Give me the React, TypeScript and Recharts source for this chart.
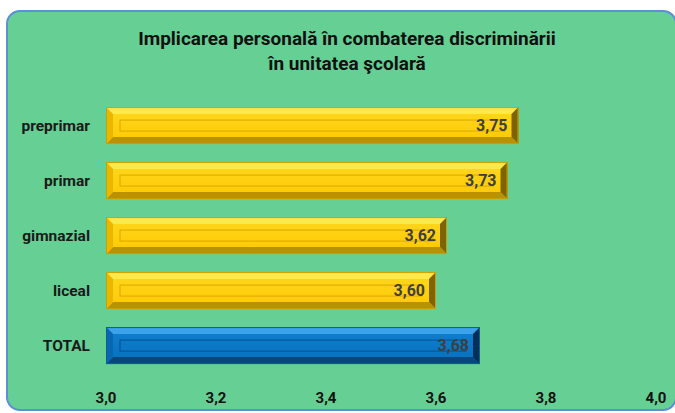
import React from 'react';
import { BarChart, Bar, XAxis, YAxis, LabelList } from 'recharts';

const categories = ['preprimar', 'primar', 'gimnazial', 'liceal', 'TOTAL'];
const values = [3.75, 3.73, 3.62, 3.6, 3.68];
const xTicks = [3.0, 3.2, 3.4, 3.6, 3.8, 4.0];
const titleLines = ['Implicarea personală în combaterea discriminării', 'în unitatea şcolară'];

const data = categories.map((c, i) => ({ name: c, value: values[i] }));

const FONT = 'Roboto, "Liberation Sans", sans-serif';

const YELLOW = {
  faceTop: '#FFD820', faceBot: '#FFC800', top: '#FFE84A', bottom: '#B89200', left: '#E8B800', right: '#7E6400', line: '#D9A800', edge: '#C9A000',
};
const BLUE = {
  faceTop: '#1080D0', faceBot: '#0670BC', top: '#3CA2EC', bottom: '#07477E', left: '#0A66AE', right: '#032F58', line: '#05508E', edge: '#0A5C9A',
};

const fmt = (v: number) => v.toFixed(2).replace('.', ',');

function BevelBar(props: any) {
  const { x, y, width: w, height: h, index } = props;
  if (w <= 0 || h <= 0) return null;
  const c = categories[index] === 'TOTAL' ? BLUE : YELLOW;
  const b = 7;
  const gid = `g${index}`;
  return (
    <g>
      <defs>
        <linearGradient id={gid} x1="0" y1="0" x2="0" y2="1">
          <stop offset="0%" stopColor={c.faceTop} />
          <stop offset="100%" stopColor={c.faceBot} />
        </linearGradient>
      </defs>
      <rect x={x} y={y} width={w} height={h} fill={`url(#${gid})`} />
      <polygon points={`${x},${y} ${x + w},${y} ${x + w - b},${y + b} ${x + b},${y + b}`} fill={c.top} />
      <polygon points={`${x},${y + h} ${x + w},${y + h} ${x + w - b},${y + h - b} ${x + b},${y + h - b}`} fill={c.bottom} />
      <polygon points={`${x},${y} ${x + b},${y + b} ${x + b},${y + h - b} ${x},${y + h}`} fill={c.left} />
      <polygon points={`${x + w},${y} ${x + w - b},${y + b} ${x + w - b},${y + h - b} ${x + w},${y + h}`} fill={c.right} />
      <rect x={x + 14} y={y + 13} width={Math.max(0, w - 28)} height={Math.max(0, h - 26)} fill="none" stroke={c.line} strokeWidth={1} />
      <rect x={x + 0.5} y={y + 0.5} width={w - 1} height={h - 1} fill="none" stroke={c.edge} strokeWidth={1} />
    </g>
  );
}

function ValueLabel(props: any) {
  const { x, y, width, height, value } = props;
  return (
    <text x={x + width - 11} y={y + height / 2} dy={5.5} textAnchor="end" fontFamily={FONT} fontWeight={700} fontSize={16} fill="#3F3F3F">
      {fmt(value)}
    </text>
  );
}

function XTick(props: any) {
  const { x, y, payload } = props;
  return (
    <text x={x} y={y} dy={22} textAnchor="middle" fontFamily={FONT} fontWeight={700} fontSize={15} fill="#111">
      {payload.value.toFixed(1).replace('.', ',')}
    </text>
  );
}

function YTick(props: any) {
  const { x, y, payload } = props;
  return (
    <text x={x} y={y} dy={5.5} textAnchor="end" fontFamily={FONT} fontWeight={700} fontSize={15.5} fill="#1A1A1A">
      {payload.value}
    </text>
  );
}

export default function App() {
  return (
    <div style={{ position: 'fixed', left: 0, top: 0, width: 675, height: 413, background: '#fff', overflow: 'hidden' }}>
      <div
        style={{
          position: 'absolute', left: 6, top: 10, width: 671, height: 401, boxSizing: 'border-box',
          border: '2.5px solid #5B8FD8', borderRadius: 14, background: '#66CF93',
        }}
      />
      <div
        style={{
          position: 'absolute', left: 0, top: 26, width: 694, textAlign: 'center', fontFamily: FONT,
          fontWeight: 700, fontSize: 19, lineHeight: '25px', color: '#111',
        }}
      >
        {titleLines.map((t) => (
          <div key={t}>{t}</div>
        ))}
      </div>
      <div style={{ position: 'absolute', left: 0, top: 0 }}>
        <BarChart
          width={675}
          height={413}
          data={data}
          layout="vertical"
          margin={{ top: 98, right: 19, bottom: 0, left: 6 }}
          barCategoryGap="16.5%"
        >
          <XAxis
            type="number"
            domain={[3, 4]}
            ticks={xTicks}
            axisLine={false}
            tickLine={false}
            tick={<XTick />}
            height={40}
            interval={0}
          />
          <YAxis
            type="category"
            dataKey="name"
            width={100}
            axisLine={false}
            tickLine={false}
            tick={<YTick />}
            tickMargin={10}
          />
          <Bar dataKey="value" shape={<BevelBar />} isAnimationActive={false}>
            <LabelList dataKey="value" content={<ValueLabel />} />
          </Bar>
        </BarChart>
      </div>
    </div>
  );
}
